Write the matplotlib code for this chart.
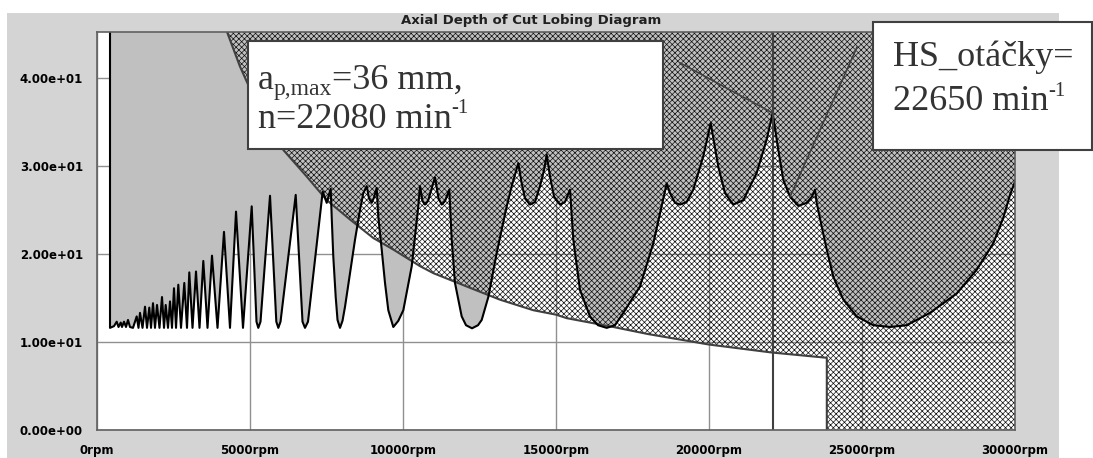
import matplotlib.pyplot as plt
from matplotlib.patches import Polygon, Rectangle

# stability lobe boundary: spindle speed [rpm] -> limiting axial depth of cut [mm]
lobe_rpm = [
    425, 425, 556, 644, 703, 775, 817, 882, 948, 1013, 1078, 1176,
    1297, 1356, 1405, 1487, 1569, 1634, 1709, 1765, 1830, 1895, 1961, 2042,
    2124, 2190, 2245, 2320, 2386, 2451, 2516, 2582, 2657, 2745, 2853, 2941,
    3016, 3121, 3235, 3350, 3474, 3611, 3758, 3938, 4150, 4346, 4543, 4771,
    5056, 5212, 5271, 5343, 5654, 5860, 5925, 5997, 6494, 6716, 6797, 6895,
    7376, 7507, 7637, 7670, 7722, 7801, 7860, 7941, 8023, 8105, 8268, 8431,
    8595, 8703, 8814, 8889, 8977, 9052, 9141, 9193, 9304, 9412, 9520, 9683,
    9847, 10010, 10285, 10500, 10556, 10637, 10719, 10817, 11046, 11160, 11265, 11373,
    11513, 11592, 11699, 11918, 12059, 12255, 12451, 12572, 12788, 13062, 13389, 13553,
    13768, 13879, 13987, 14150, 14314, 14477, 14608, 14696, 14804, 14935, 15131, 15294,
    15458, 15566, 15784, 16111, 16373, 16657, 16928, 17200, 17745, 18180, 18451, 18618,
    18726, 18890, 19052, 19271, 19487, 19814, 20055, 20304, 20523, 20794, 21121, 21559,
    21886, 22080, 22265, 22428, 22647, 22918, 23192, 23366, 23464, 23519, 23683, 23846,
    24063, 24390, 24828, 25369, 25915, 26461, 27222, 28095, 28749, 29291, 29618, 29837,
    30000,
]
lobe_ap = [
    46.0, 11.6, 11.8, 12.3, 11.7, 12.2, 11.7, 12.3, 11.7, 12.5, 11.7, 11.6,
    12.9, 11.6, 13.3, 11.6, 14.0, 11.6, 13.9, 11.6, 14.4, 11.6, 14.2, 11.6,
    15.1, 11.6, 14.2, 11.6, 14.6, 11.6, 16.1, 11.6, 16.5, 11.6, 16.7, 11.6,
    17.9, 11.6, 18.0, 11.6, 19.2, 11.6, 19.8, 11.6, 22.5, 11.6, 24.8, 11.6,
    25.4, 12.3, 11.6, 12.3, 26.6, 12.3, 11.6, 12.3, 26.7, 12.3, 11.6, 12.3,
    27.1, 25.8, 27.4, 24.2, 19.7, 15.1, 12.5, 11.6, 12.4, 14.0, 17.8, 21.6,
    25.0, 26.9, 27.7, 26.3, 25.8, 26.4, 27.5, 24.2, 20.5, 16.7, 13.6, 11.7,
    12.4, 13.6, 18.6, 25.4, 27.7, 26.0, 25.6, 26.0, 28.7, 26.3, 25.6, 26.0,
    27.3, 21.6, 16.7, 12.9, 11.9, 11.55, 11.9, 12.5, 15.1, 20.1, 25.4, 27.7,
    30.3, 28.0, 26.3, 25.6, 25.9, 27.7, 29.5, 31.25, 28.8, 26.5, 25.6, 25.9,
    27.3, 21.6, 15.9, 12.9, 11.9, 11.6, 11.9, 13.3, 16.3, 21.2, 25.4, 28.0,
    26.9, 25.8, 25.6, 25.9, 27.3, 31.1, 34.85, 29.9, 26.9, 25.6, 26.1, 29.2,
    33.0, 36.0, 31.8, 28.4, 26.5, 25.45, 25.8, 26.5, 27.3, 25.8, 23.1, 20.5,
    17.4, 14.8, 12.9, 11.9, 11.7, 11.9, 13.3, 15.5, 18.2, 21.2, 24.1, 26.7,
    28.2,
]

# spindle limit curve; everything above it (and beyond max speed) is hatched
limit_rpm = [4250, 4670, 5110, 6090, 6850, 7510, 8270, 9030, 9680, 10560, 11000,
             12080, 13170, 14260, 15000, 15350, 16870, 18000, 20010, 22050, 23850]
limit_ap = [45.2, 41.3, 37.9, 31.8, 28.8, 26.1, 23.9, 21.8, 20.5, 18.6, 17.8,
            16.3, 14.8, 13.6, 13.1, 12.7, 11.7, 10.9, 9.7, 8.8, 8.2]

peak_rpm, peak_ap = 22080, 36.0
hs_rpm, hs_ap = 22650, 26.5
callout1_from = (19050, 41.7)
callout2_from = (24840, 43.5)

x_ticks = [0, 5000, 10000, 15000, 20000, 25000, 30000]
y_ticks = [0, 10, 20, 30, 40]
x_max, y_max = 30000, 45.2

plt.rcParams['hatch.linewidth'] = 0.5

W, H = 1093, 458
fig = plt.figure(figsize=(W / 100, H / 100), dpi=100)
fig.add_artist(Rectangle((7 / W, 0), (1059 - 7) / W, 1 - 13 / H,
                         transform=fig.transFigure, facecolor='#d4d4d4',
                         edgecolor='none', zorder=-1))

ax = fig.add_axes([97 / W, 28 / H, 918 / W, 398 / H])
ax.set_facecolor('white')
ax.set_xlim(0, x_max)
ax.set_ylim(0, y_max)
ax.set_axisbelow(True)
ax.grid(True, color='#909090', lw=1.0)

# unstable area above the lobes
ax.fill_between(lobe_rpm, lobe_ap, 60, color='#c0c0c0', lw=0, zorder=1)

# hatched region above the spindle limit
verts = [(limit_rpm[0], y_max)] + list(zip(limit_rpm, limit_ap))
verts += [(limit_rpm[-1], 0), (x_max, 0), (x_max, y_max)]
ax.add_patch(Polygon(verts, closed=True, facecolor='none', edgecolor='#101010',
                     lw=0, hatch='x' * 6, zorder=2))
ax.plot(limit_rpm + [limit_rpm[-1]], limit_ap + [0], color='#404040', lw=1.5, zorder=3)

ax.plot(lobe_rpm, lobe_ap, color='black', lw=1.5, zorder=4)
ax.axvline(peak_rpm, color='#404040', lw=1.5, zorder=5)

ax.plot([callout1_from[0], peak_rpm], [callout1_from[1], peak_ap], color='#404040', lw=1.2, zorder=5)
ax.plot([callout2_from[0], hs_rpm], [callout2_from[1], hs_ap], color='#404040', lw=1.2, zorder=5)

for s in ax.spines.values():
    s.set_color('#606060')
    s.set_linewidth(1.2)
    s.set_zorder(6)

ax.set_xticks(x_ticks)
ax.set_xticklabels([f"{v}rpm" for v in x_ticks])
ax.set_yticks(y_ticks)
ax.set_yticklabels([f"{v:.2e}" for v in y_ticks])
ax.tick_params(length=0, labelsize=8.5, pad=10)
for lab in ax.get_xticklabels() + ax.get_yticklabels():
    lab.set_fontweight('bold')

fig.text(531 / W, 1 - 20.5 / H, "Axial Depth of Cut Lobing Diagram",
         ha='center', va='center', fontsize=9.5, fontweight='bold', color='#202020')

# text boxes
fig.add_artist(Rectangle((248 / W, 1 - 149 / H), (663 - 248) / W, (149 - 41) / H,
                         transform=fig.transFigure, facecolor='white',
                         edgecolor='#404040', lw=1.5, zorder=5))
fig.add_artist(Rectangle((873 / W, 1 - 150 / H), (1092 - 873) / W, (150 - 22) / H,
                         transform=fig.transFigure, facecolor='white',
                         edgecolor='#404040', lw=1.5, zorder=5))

renderer = fig.canvas.get_renderer()


def rich_line(parts, x, y):
    # parts: (text, fontsize, baseline shift in px); x, y in px from top-left
    for txt, fs, dy in parts:
        t = fig.text(x / W, (H - y + dy) / H, txt, fontsize=fs,
                     family='Liberation Serif', color='#333333',
                     va='baseline', ha='left', zorder=6)
        x = t.get_window_extent(renderer).x1


big, sub, sup = 26, 17, 15
rich_line([("a", big, 0), ("p,max", sub, -6), ("=36 mm,", big, 0)], 258, 89)
rich_line([("n=22080 min", big, 0), ("-1", sup, 15)], 258, 128)
rich_line([("HS_otáčky=", big, 0)], 893, 66)
rich_line([("22650 min", big, 0), ("-1", sup, 14)], 893, 110)

fig.savefig("out.png", dpi=100)
